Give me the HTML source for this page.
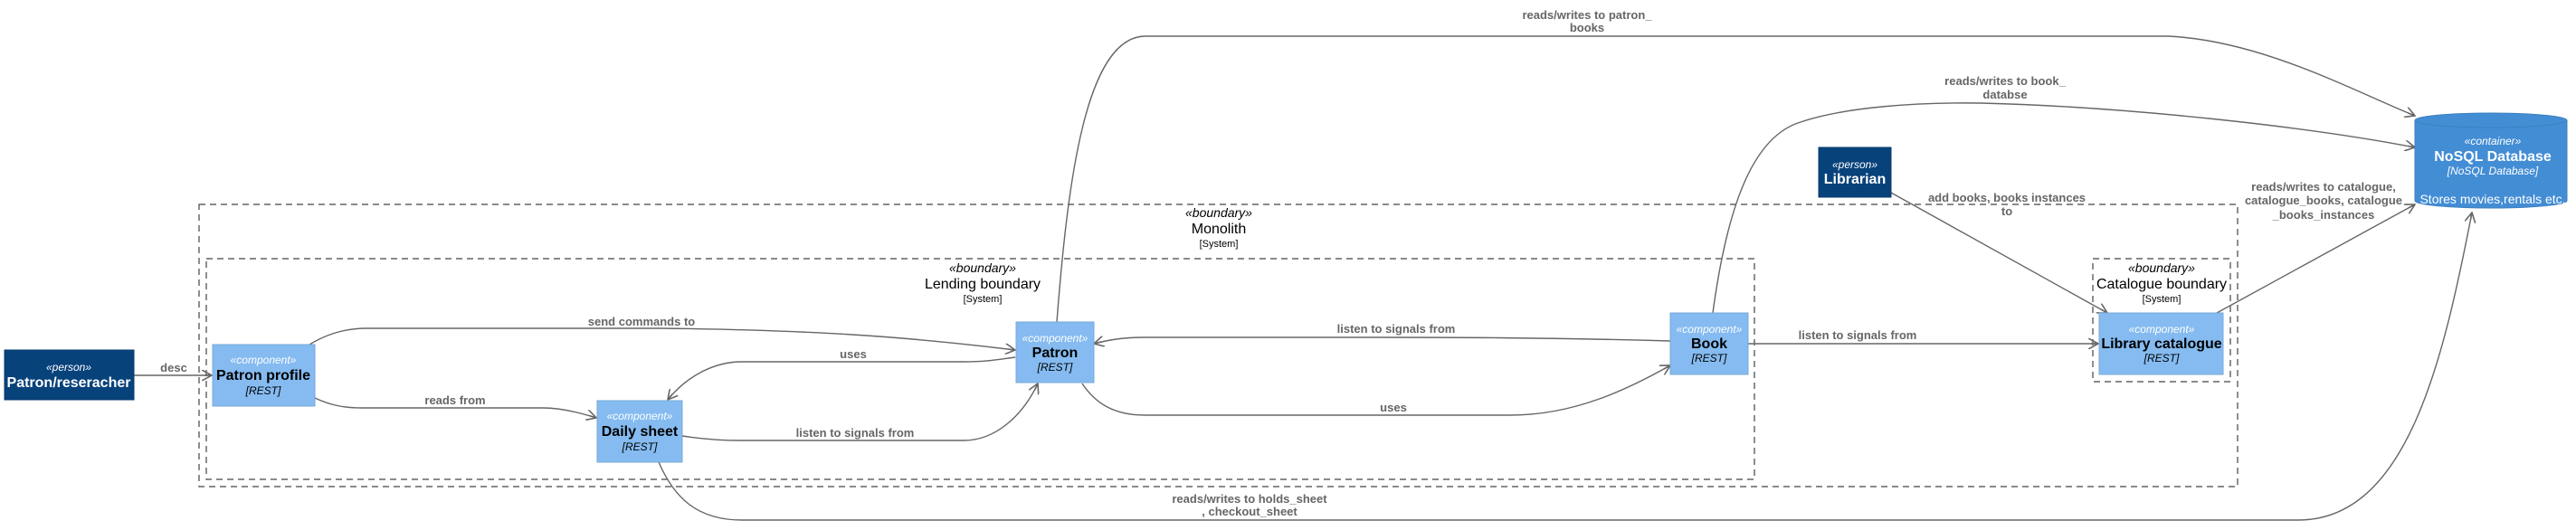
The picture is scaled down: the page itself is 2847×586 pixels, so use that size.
<!DOCTYPE html>
<html><head><meta charset="utf-8"><style>
html,body{margin:0;padding:0;background:#fff;}
svg{display:block;font-family:"Liberation Sans",Arial,sans-serif;}
.lbl{font-size:13px;font-weight:bold;fill:#666;text-anchor:middle;}
.st{font-size:12px;font-style:italic;fill:#fff;text-anchor:middle;}
.ti{font-size:16px;font-weight:bold;fill:#000;text-anchor:middle;}
.te{font-size:12px;font-style:italic;fill:#000;text-anchor:middle;}
.e{fill:none;stroke:#666;stroke-width:1.4;}
.b{fill:none;stroke:#444;stroke-width:1.2;stroke-dasharray:7,5;}
.comp{fill:#85bbf0;stroke:#78a8d8;stroke-width:1;}
</style></head><body>
<svg width="2847" height="586" viewBox="0 0 2847 586">
<defs>
<marker id="a" viewBox="0 0 12 12" refX="11" refY="6" markerWidth="12" markerHeight="12" markerUnits="userSpaceOnUse" orient="auto">
<path d="M0,0 L11,6 L0,12 M11,6 L3,6" fill="none" stroke="#666" stroke-width="1.6"/>
</marker>
</defs>

<!-- boundaries -->
<rect class="b" x="220" y="226" width="2253" height="312"/>
<text x="1347" y="240" style="font-size:14px;font-style:italic;text-anchor:middle;fill:#000">«boundary»</text>
<text x="1347" y="258" style="font-size:16px;text-anchor:middle;fill:#000">Monolith</text>
<text x="1347" y="273" style="font-size:11px;text-anchor:middle;fill:#000">[System]</text>

<rect class="b" x="228" y="286" width="1711" height="244"/>
<text x="1086" y="301" style="font-size:14px;font-style:italic;text-anchor:middle;fill:#000">«boundary»</text>
<text x="1086" y="319" style="font-size:16px;text-anchor:middle;fill:#000">Lending boundary</text>
<text x="1086" y="334" style="font-size:11px;text-anchor:middle;fill:#000">[System]</text>

<rect class="b" x="2313" y="286" width="152" height="136"/>
<text x="2389" y="301" style="font-size:14px;font-style:italic;text-anchor:middle;fill:#000">«boundary»</text>
<text x="2389" y="319" style="font-size:16px;text-anchor:middle;fill:#000">Catalogue boundary</text>
<text x="2389" y="334" style="font-size:11px;text-anchor:middle;fill:#000">[System]</text>

<!-- edges -->
<path class="e" d="M148,415 L234,415" marker-end="url(#a)"/>
<text class="lbl" x="192" y="411">desc</text>

<path class="e" d="M342,381 C360,370 380,363 405,363 L730,363 C900,365 1000,372 1122,387" marker-end="url(#a)"/>
<text class="lbl" x="709" y="360">send commands to</text>

<path class="e" d="M1122,395 C1100,398 1090,400 1065,400 L820,400 C790,400 760,415 738,442" marker-end="url(#a)"/>
<text class="lbl" x="943" y="396">uses</text>

<path class="e" d="M348,440 C365,448 380,451 400,451 L600,451 C620,451 640,456 659,462" marker-end="url(#a)"/>
<text class="lbl" x="503" y="447">reads from</text>

<path class="e" d="M754,482 C780,486 800,487 818,487 L1065,487 C1100,487 1130,460 1147,424" marker-end="url(#a)"/>
<text class="lbl" x="945" y="483">listen to signals from</text>

<path class="e" d="M728,511 C745,550 770,575 820,575 L2540,575 C2660,575 2700,400 2732,235" marker-end="url(#a)"/>
<text class="lbl" x="1381" y="556">reads/writes to holds_sheet</text>
<text class="lbl" x="1381" y="570">, checkout_sheet</text>

<path class="e" d="M1168,356 C1180,200 1200,40 1266,40 L2396,40 C2500,45 2600,100 2669,128" marker-end="url(#a)"/>
<text class="lbl" x="1754" y="21">reads/writes to patron_</text>
<text class="lbl" x="1754" y="35">books</text>

<path class="e" d="M1893,346 C1910,220 1940,150 1990,135 C2040,118 2120,113 2190,114 C2350,118 2550,140 2669,163" marker-end="url(#a)"/>
<text class="lbl" x="2216" y="94">reads/writes to book_</text>
<text class="lbl" x="2216" y="109">databse</text>

<path class="e" d="M1846,377 C1700,373 1600,373 1500,373 L1265,373 C1240,373 1225,376 1209,380" marker-end="url(#a)"/>
<text class="lbl" x="1543" y="368">listen to signals from</text>

<path class="e" d="M1196,424 C1210,445 1230,459 1265,459 L1670,459 C1740,459 1800,430 1846,404" marker-end="url(#a)"/>
<text class="lbl" x="1540" y="455">uses</text>

<path class="e" d="M1932,380 L2319,380" marker-end="url(#a)"/>
<text class="lbl" x="2053" y="375">listen to signals from</text>

<path class="e" d="M2090,213 L2329,346" marker-end="url(#a)"/>
<text class="lbl" x="2218" y="223">add books, books instances</text>
<text class="lbl" x="2218" y="238">to</text>

<path class="e" d="M2450,346 L2669,226" marker-end="url(#a)"/>
<text class="lbl" x="2568" y="211">reads/writes to catalogue,</text>
<text class="lbl" x="2568" y="226">catalogue_books, catalogue</text>
<text class="lbl" x="2568" y="242">_books_instances</text>

<!-- persons -->
<rect x="5" y="387" width="143" height="55" fill="#08427b" stroke="#073b6f"/>
<text class="st" x="76" y="410">«person»</text>
<text x="76" y="428" style="font-size:16px;font-weight:bold;fill:#fff;text-anchor:middle">Patron/reseracher</text>

<rect x="2010" y="163" width="80" height="55" fill="#08427b" stroke="#073b6f"/>
<text class="st" x="2050" y="186">«person»</text>
<text x="2050" y="203" style="font-size:16px;font-weight:bold;fill:#fff;text-anchor:middle">Librarian</text>

<!-- components -->
<rect class="comp" x="235" y="381" width="113" height="68"/>
<text class="st" x="291" y="402">«component»</text>
<text class="ti" x="291" y="420">Patron profile</text>
<text class="te" x="291" y="436">[REST]</text>

<rect class="comp" x="660" y="443" width="94" height="68"/>
<text class="st" x="707" y="464">«component»</text>
<text class="ti" x="707" y="482">Daily sheet</text>
<text class="te" x="707" y="498">[REST]</text>

<rect class="comp" x="1123" y="356" width="86" height="67"/>
<text class="st" x="1166" y="378">«component»</text>
<text class="ti" x="1166" y="395">Patron</text>
<text class="te" x="1166" y="410">[REST]</text>

<rect class="comp" x="1846" y="346" width="86" height="68"/>
<text class="st" x="1889" y="368">«component»</text>
<text class="ti" x="1889" y="385">Book</text>
<text class="te" x="1889" y="400">[REST]</text>

<rect class="comp" x="2320" y="346" width="137" height="68"/>
<text class="st" x="2389" y="368">«component»</text>
<text class="ti" x="2389" y="385">Library catalogue</text>
<text class="te" x="2389" y="400">[REST]</text>

<!-- database -->
<path d="M2669,133 L2669,222 A84,8 0 0 0 2837,222 L2837,133 A84,8 0 0 0 2669,133 Z" fill="#438dd5" stroke="#3c7fc0"/>
<path d="M2669,133 A84,8 0 0 0 2837,133" fill="none" stroke="#3c7fc0"/>
<text x="2755" y="160" style="font-size:12px;font-style:italic;fill:#fff;text-anchor:middle">«container»</text>
<text x="2755" y="178" style="font-size:16px;font-weight:bold;fill:#fff;text-anchor:middle">NoSQL Database</text>
<text x="2755" y="193" style="font-size:12px;font-style:italic;fill:#fff;text-anchor:middle">[NoSQL Database]</text>
<text x="2755" y="225" style="font-size:14px;fill:#fff;text-anchor:middle">Stores movies,rentals etc.</text>
</svg>
</body></html>
